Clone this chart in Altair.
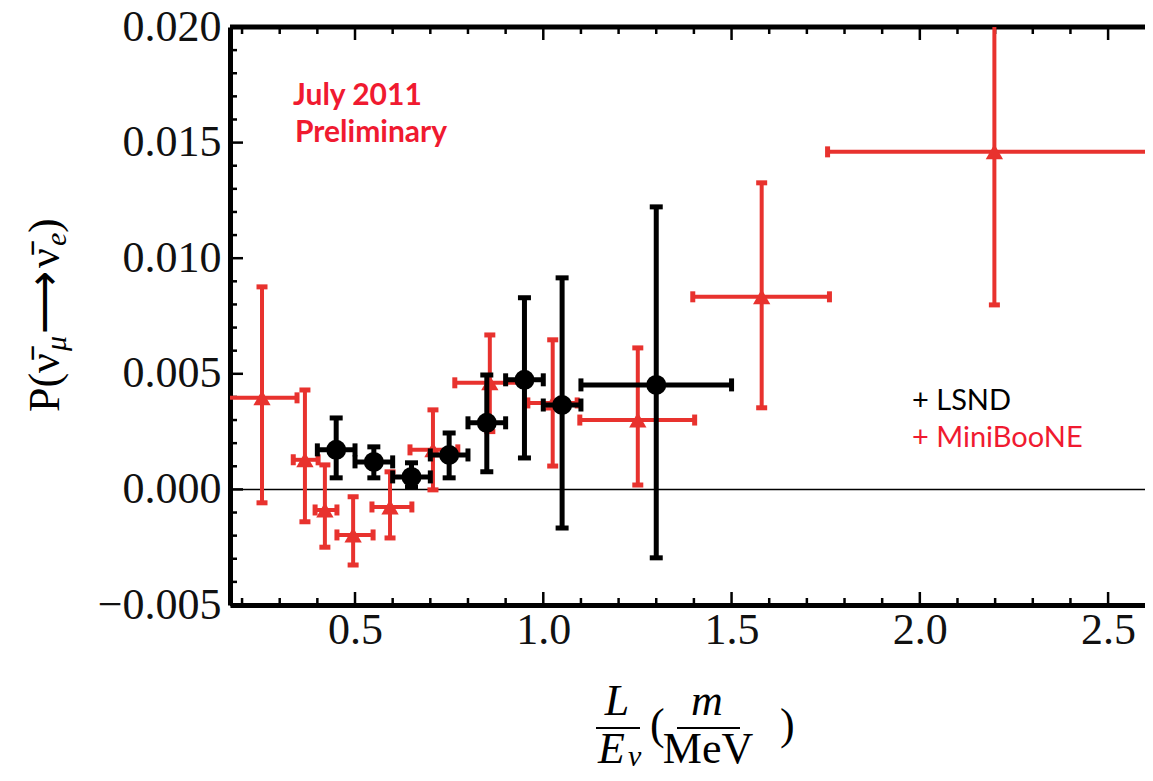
import altair as alt
import pandas as pd

# ---------------- data ----------------
# MiniBooNE (red triangles)
MB_X   = [0.253, 0.367, 0.420, 0.495, 0.593, 0.707, 0.858, 1.025, 1.251, 1.580, 2.198]
MB_XLO = [0.160, 0.336, 0.394, 0.452, 0.545, 0.646, 0.765, 0.959, 1.097, 1.397, 1.755]
MB_XHI = [0.346, 0.402, 0.452, 0.548, 0.651, 0.773, 0.950, 1.090, 1.402, 1.760, 2.640]
MB_Y   = [0.00396, 0.00128, -0.00089, -0.00197, -0.00076, 0.00171, 0.00461, 0.00374, 0.00300, 0.00833, 0.01460]
MB_YLO = [-0.00058, -0.00140, -0.00250, -0.00327, -0.00210, -0.00002, 0.00250, 0.00101, 0.00019, 0.00353, 0.00798]
MB_YHI = [0.00876, 0.00430, 0.00106, -0.00032, 0.00076, 0.00344, 0.00668, 0.00647, 0.00612, 0.01326, 0.02130]

# LSND (black circles)
LS_X   = [0.45, 0.55, 0.65, 0.75, 0.85, 0.95, 1.05, 1.30]
LS_XLO = [0.40, 0.50, 0.60, 0.70, 0.80, 0.90, 1.00, 1.10]
LS_XHI = [0.50, 0.60, 0.70, 0.80, 0.90, 1.00, 1.10, 1.50]
LS_Y   = [0.00171, 0.00119, 0.00054, 0.00149, 0.00288, 0.00474, 0.00365, 0.00452]
LS_YLO = [0.00050, 0.00050, 0.00010, 0.00050, 0.00076, 0.00136, -0.00167, -0.00296]
LS_YHI = [0.00309, 0.00184, 0.00115, 0.00244, 0.00495, 0.00829, 0.00915, 0.01222]

# ticks
Y_MAJOR = [-0.005, 0.0, 0.005, 0.010, 0.015, 0.020]
Y_MINOR = [-0.004, -0.003, -0.002, -0.001, 0.001, 0.002, 0.003, 0.004,
           0.006, 0.007, 0.008, 0.009, 0.011, 0.012, 0.013, 0.014,
           0.016, 0.017, 0.018, 0.019]
X_MAJOR = [0.5, 1.0, 1.5, 2.0, 2.5]
X_MINOR = [0.2, 0.3, 0.4, 0.6, 0.7, 0.8, 0.9, 1.1, 1.2, 1.3, 1.4,
           1.6, 1.7, 1.8, 1.9, 2.1, 2.2, 2.3, 2.4]

X_DOMAIN = [0.168, 2.598]
Y_DOMAIN = [-0.005, 0.020]

# ---------------- styling ----------------
OY = 0
W, H = 915, 578 - OY
RED = "#e8322e"
TXT_RED = "#f01a30"
SERIF = "Liberation Serif"
SANS = "Lato"

xs = alt.Scale(domain=X_DOMAIN, nice=False, zero=False)
ys = alt.Scale(domain=Y_DOMAIN, nice=False, zero=False)

X_AXIS = alt.Axis(values=X_MAJOR, format=".1f", title=None, ticks=False, tickSize=0,
                  grid=False, domain=True, domainColor="black", domainWidth=5,
                  labelFont=SERIF, labelFontSize=44, labelColor="#111",
                  labelPadding=3, labelFlush=False)
Y_AXIS = alt.Axis(values=Y_MAJOR, format=".3f", title=None, ticks=False, tickSize=0,
                  grid=False, domain=True, domainColor="black", domainWidth=5,
                  labelFont=SERIF, labelFontSize=44, labelColor="#111",
                  labelPadding=9)

mb = pd.DataFrame(dict(x=MB_X, xlo=MB_XLO, xhi=MB_XHI, y=MB_Y, ylo=MB_YLO, yhi=MB_YHI))
ls = pd.DataFrame(dict(x=LS_X, xlo=LS_XLO, xhi=LS_XHI, y=LS_Y, ylo=LS_YLO, yhi=LS_YHI))


def X(f):
    return alt.X(f"{f}:Q", scale=xs, axis=X_AXIS)


def Y(f):
    return alt.Y(f"{f}:Q", scale=ys, axis=Y_AXIS)


def series(df, color, bw, cap_len, cap_w, shape, size):
    b = alt.Chart(df)
    v = b.mark_rule(color=color, strokeWidth=bw, clip=True).encode(x=X("x"), y=Y("ylo"), y2="yhi:Q")
    h = b.mark_rule(color=color, strokeWidth=bw, clip=True).encode(x=X("xlo"), x2="xhi:Q", y=Y("y"))
    c1 = b.mark_tick(orient="horizontal", color=color, size=cap_len, thickness=cap_w, clip=True, opacity=1).encode(x=X("x"), y=Y("ylo"))
    c2 = b.mark_tick(orient="horizontal", color=color, size=cap_len, thickness=cap_w, clip=True, opacity=1).encode(x=X("x"), y=Y("yhi"))
    c3 = b.mark_tick(orient="vertical", color=color, size=cap_len, thickness=cap_w, clip=True, opacity=1).encode(x=X("xlo"), y=Y("y"))
    c4 = b.mark_tick(orient="vertical", color=color, size=cap_len, thickness=cap_w, clip=True, opacity=1).encode(x=X("xhi"), y=Y("y"))
    p = b.mark_point(shape=shape, filled=True, size=size, color=color, opacity=1, clip=True).encode(x=X("x"), y=Y("y"))
    return [v, h, c1, c2, c3, c4, p]


one = pd.DataFrame({"a": [0]})

# zero line and top frame
zero = alt.Chart(one).mark_rule(color="black", strokeWidth=1.5).encode(y=alt.datum(0, scale=ys))
top = alt.Chart(one).mark_rule(color="black", strokeWidth=5).encode(y=alt.value(0))

# inward ticks
ym = alt.Chart(pd.DataFrame({"v": Y_MAJOR})).mark_tick(orient="horizontal", size=13, thickness=2.5, color="black", opacity=1).encode(
    x=alt.value(6.5), y=alt.Y("v:Q", scale=ys, axis=Y_AXIS))
yn = alt.Chart(pd.DataFrame({"v": Y_MINOR})).mark_tick(orient="horizontal", size=7, thickness=2.5, color="black", opacity=1).encode(
    x=alt.value(3.5), y=alt.Y("v:Q", scale=ys, axis=Y_AXIS))
xmb = alt.Chart(pd.DataFrame({"v": X_MAJOR})).mark_tick(orient="vertical", size=13, thickness=2.5, color="black", opacity=1).encode(
    y=alt.value(H - 6.5), x=alt.X("v:Q", scale=xs, axis=X_AXIS))
xnb = alt.Chart(pd.DataFrame({"v": X_MINOR})).mark_tick(orient="vertical", size=7, thickness=2.5, color="black", opacity=1).encode(
    y=alt.value(H - 3.5), x=alt.X("v:Q", scale=xs, axis=X_AXIS))
xmt = alt.Chart(pd.DataFrame({"v": X_MAJOR})).mark_tick(orient="vertical", size=13, thickness=2.5, color="black", opacity=1).encode(
    y=alt.value(6.5), x=alt.X("v:Q", scale=xs, axis=X_AXIS))
xnt = alt.Chart(pd.DataFrame({"v": X_MINOR})).mark_tick(orient="vertical", size=7, thickness=2.5, color="black", opacity=1).encode(
    y=alt.value(3.5), x=alt.X("v:Q", scale=xs, axis=X_AXIS))


def txt(s, x, y, size, color="black", font=SERIF, weight="normal", style="normal", align="left", angle=0):
    return alt.Chart(one).mark_text(text=s, fontSize=size, color=color, font=font, fontWeight=weight,
                                    fontStyle=style, align=align, baseline="alphabetic", angle=angle).encode(
        x=alt.value(x), y=alt.value(y - OY))


def hline(x1, x2, y):
    return alt.Chart(one).mark_rule(color="black", strokeWidth=2).encode(
        x=alt.value(x1), x2=alt.value(x2), y=alt.value(y - OY))


DY = -10  # x-title vertical shift so that it stays inside the page
annot = [
    txt("July 2011", 63, 78, 30, TXT_RED, SANS, "bold"),
    txt("Preliminary", 65, 115, 30, TXT_RED, SANS, "bold"),
    txt("+ LSND", 682, 383, 29, "black", SANS),
    txt("+ MiniBooNE", 682, 420, 29, TXT_RED, SANS),
    # y title: P(nu-bar_mu -> nu-bar_e), rotated
    txt("P(", -171, 385, 44, angle=270),
    txt("\u03bd\u0304", -171, 346, 44, angle=270),
    txt("\u03bc", -164, 324, 30, style="italic", angle=270),
    txt("\u27f6", -171, 307, 44, angle=270),
    txt("\u03bd\u0304", -171, 241, 44, angle=270),
    txt("e", -164, 219, 30, style="italic", angle=270),
    txt(")", -171, 206, 44, angle=270),
    # x title: L/E_nu (m/MeV)
    txt("L", 387, 698 + DY, 44, style="italic", align="center"),
    hline(366, 410, 711 + DY),
    txt("E", 368, 746 + DY, 44, style="italic"),
    txt("\u03bd", 398, 749 + DY, 30, style="italic"),
    txt("(", 420, 722 + DY, 44),
    txt("m", 477, 698 + DY, 44, style="italic", align="center"),
    hline(447, 510, 711 + DY),
    txt("MeV", 478, 746 + DY, 44, align="center"),
    txt(")", 550, 722 + DY, 44),
]

layers = [zero, top, ym, yn, xmb, xnb, xmt, xnt]
layers += series(mb, RED, 4, 11, 5, "triangle-up", 300)
layers += series(ls, "black", 5, 13, 5, "circle", 400)
layers += annot

chart = alt.layer(*layers).properties(
    width=W, height=H,
    padding={"left": 222, "top": 19 + OY, "right": 0, "bottom": 168},
    autosize=alt.AutoSizeParams(type="none"),
).configure_view(stroke=None).configure(background="white")

chart.save("out.html", embed_options={"renderer": "svg", "actions": False})
